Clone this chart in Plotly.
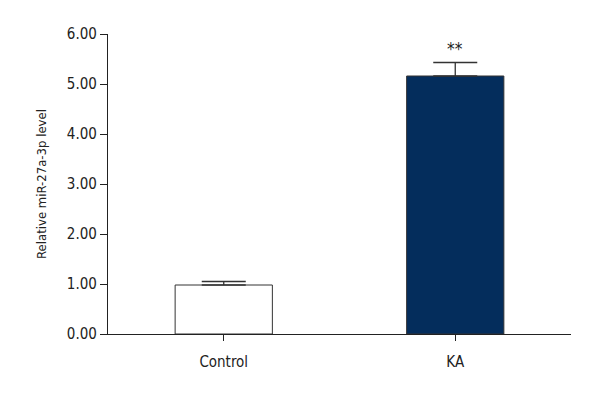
import plotly.graph_objects as go

# data
groups = ["Control", "KA"]
means = [0.98, 5.16]
errors_up = [0.07, 0.27]
errors_down = [0, 0]
bar_colors = ["#ffffff", "#042d5c"]
sig_labels = ["", "**"]
y_ticks = [0, 1, 2, 3, 4, 5, 6]

FONT = "DejaVu Sans Condensed, Liberation Sans Narrow, sans-serif"

fig = go.Figure()
fig.add_trace(go.Bar(
    x=groups,
    y=means,
    width=0.42,
    marker=dict(color=bar_colors, line=dict(color="#333333", width=1)),
    error_y=dict(
        type="data", symmetric=False,
        array=errors_up, arrayminus=errors_down,
        color="#333333", thickness=1.3, width=22,
    ),
    showlegend=False,
))

for g, m, e, s in zip(groups, means, errors_up, sig_labels):
    if s:
        fig.add_annotation(
            x=g, y=m + e, text=s, showarrow=False,
            yanchor="bottom", yshift=2,
            font=dict(family=FONT, size=17, color="#222222"),
        )

# the page body adds an 8px offset, margins compensate for it
fig.update_layout(
    width=600, height=400,
    paper_bgcolor="white", plot_bgcolor="white",
    margin=dict(l=100, r=37, t=26, b=74),
    font=dict(family=FONT, size=15, color="#222222"),
    xaxis=dict(
        range=[-0.5, 1.5],
        showline=True, linecolor="#222222", linewidth=1.3,
        ticks="outside", ticklen=6, tickcolor="#222222",
        ticklabelstandoff=8,
        showgrid=False, zeroline=False,
        tickfont=dict(family=FONT, size=15),
    ),
    yaxis=dict(
        range=[0, 6],
        tickvals=y_ticks,
        tickformat=".2f",
        showline=True, linecolor="#222222", linewidth=1.3,
        ticks="outside", ticklen=7, tickcolor="#222222",
        showgrid=False, zeroline=False,
        tickfont=dict(family=FONT, size=15),
        title=dict(text="Relative miR-27a-3p level", font=dict(family=FONT, size=13), standoff=17),
    ),
)

fig.write_html("out.html")
